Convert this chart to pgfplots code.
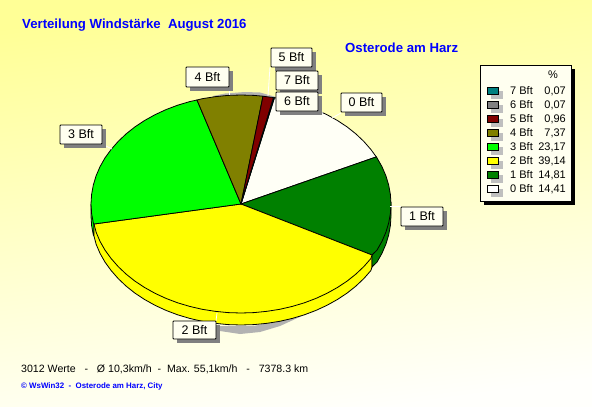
\documentclass[border=0pt]{standalone}
\usepackage{fontspec}
\setmainfont{Liberation Sans}
\usepackage{pgfplots}
\pgfplotsset{compat=1.18}

\definecolor{bft7}{HTML}{008080}
\definecolor{bft6}{HTML}{808080}
\definecolor{bft5}{HTML}{800000}
\definecolor{bft4}{HTML}{808000}
\definecolor{bft3}{HTML}{00FF00}
\definecolor{bft2}{HTML}{FFFF00}
\definecolor{bft1}{HTML}{008000}
\definecolor{bft0}{HTML}{FFFFF6}
\definecolor{paper}{HTML}{FFFFF0}
\definecolor{bgtop}{HTML}{FFFF96}
\definecolor{bgbot}{HTML}{FFFFFC}

% label box: x0, x1, y0, y1, text
\newcommand{\lbl}[5]{%
  \fill[bft6] (axis cs:#1+4,#3+4) rectangle (axis cs:#2+4,#4+4);
  \draw[black, line width=0.8pt, fill=paper, rounded corners=0.8pt] (axis cs:#1,#3) rectangle (axis cs:#2,#4);
  \node[font=\fontsize{12.5}{14}\selectfont, inner sep=0pt] at (axis cs:{(#1+#2)/2},{(#3+#4)/2}) {#5};
}
% legend row: y, colour, name, percent
\newcommand{\legrow}[4]{%
  \fill[black!25] (axis cs:491,#1-0.5) rectangle (axis cs:503,#1+7.5);
  \draw[black, line width=0.8pt, fill=#2] (axis cs:487,#1-3.5) rectangle (axis cs:498,#1+3.5);
  \node[font=\fontsize{11}{13}\selectfont, anchor=west, inner sep=0pt] at (axis cs:510,#1) {#3};
  \node[font=\fontsize{11}{13}\selectfont, anchor=east, inner sep=0pt] at (axis cs:566,#1) {#4};
}

\begin{document}
\begin{tikzpicture}
\begin{axis}[
    scale only axis,
    width=592pt, height=407pt,
    xmin=0, xmax=592,
    ymin=0, ymax=407,
    y dir=reverse,
    hide axis,
]
% background
\shade[top color=bgtop, bottom color=bgbot, shading angle=8]
  (axis cs:0,0) rectangle (axis cs:592,407);

% gray shadow, only the two crescents show
\addplot[fill=black!30, draw=none] coordinates {
  (213,96) (225,93.5) (245,92) (260,92.5) (276,97) (260,97) (213,97)
} --cycle;
\addplot[fill=black!30, draw=none] coordinates {
  (212,322) (220,331) (240,334) (260,332) (280,326) (304,315) (280,320) (254,326) (212,326)
} --cycle;

% side wall, top edge shifted 12 down
\addplot[fill=bft3, draw=black, line width=0.8pt] coordinates {
  (91,204) (91,216) (91.6,225.5) (93.3,234.9) (94,236) (94,224)
} --cycle;
\addplot[fill=bft2, draw=black, line width=0.8pt] coordinates {
  (94,224) (94,236) (96.1,244.2) (100,253.3) (105,262.1) (111.1,270.5) (118.1,278.5)
  (126.1,286.1) (134.9,293.1) (144.6,299.5) (155,305.3) (166,310.4) (177.6,314.8)
  (189.7,318.4) (202.2,321.3) (215,323.3) (227.9,324.6) (241,325) (254.1,324.6)
  (267,323.3) (279.8,321.3) (292.3,318.4) (304.4,314.8) (316,310.4) (327,305.3)
  (337.4,299.5) (347.1,293.1) (355.9,286.1) (363.9,278.5) (370.9,270.5) (372,267) (372,255)
} --cycle;
\addplot[fill=bft1, draw=black, line width=0.8pt] coordinates {
  (372,255) (372,267) (377,262.1) (382,253.3) (385.9,244.2) (388.7,234.9)
  (390.4,225.5) (391,216) (391,204)
} --cycle;

% slices: 0 Bft 14.41, 1 Bft 14.81, 2 Bft 39.14, 3 Bft 23.17, 4 Bft 7.37, 5 Bft 0.96, 6 and 7 Bft 0.07
\addplot[fill=bft0, draw=black, line width=0.8pt] coordinates {
  (241,204) (274.5,97.7) (279.8,98.7) (292.3,101.6) (304.4,105.2) (316,109.6) (327,114.7)
  (337.4,120.5) (347.1,126.9) (355.9,133.9) (363.9,141.5) (370.9,149.5) (376.3,156.9)
} --cycle;
\addplot[fill=bft1, draw=black, line width=0.8pt] coordinates {
  (241,204) (376.3,156.9) (377,157.9) (382,166.7) (385.9,175.8) (388.7,185.1) (390.4,194.5)
  (391,204) (390.4,213.5) (388.7,222.9) (385.9,232.2) (382,241.3) (377,250.1) (372,255)
} --cycle;
\addplot[fill=bft2, draw=black, line width=0.8pt] coordinates {
  (241,204) (372,255) (370.9,258.5) (363.9,266.5) (355.9,274.1) (347.1,281.1) (337.4,287.5)
  (327,293.3) (316,298.4) (304.4,302.8) (292.3,306.4) (279.8,309.3) (267,311.3) (254.1,312.6)
  (241,313) (227.9,312.6) (215,311.3) (202.2,309.3) (189.7,306.4) (177.6,302.8) (166,298.4)
  (155,293.3) (144.6,287.5) (134.9,281.1) (126.1,274.1) (118.1,266.5) (111.1,258.5)
  (105,250.1) (100,241.3) (96.1,232.2) (94,224)
} --cycle;
\addplot[fill=bft3, draw=black, line width=0.8pt] coordinates {
  (241,204) (94,224) (93.3,222.9) (91.6,213.5) (91,204) (91.6,194.5) (93.3,185.1) (96.1,175.8)
  (100,166.7) (105,157.9) (111.1,149.5) (118.1,141.5) (126.1,133.9) (134.9,126.9) (144.6,120.5)
  (155,114.7) (166,109.6) (177.6,105.2) (189.7,101.6) (197,100)
} --cycle;
\addplot[fill=bft4, draw=black, line width=0.8pt] coordinates {
  (241,204) (197,100) (202.2,98.7) (215,96.7) (227.9,95.4) (241,95) (254.1,95.4) (263,96.2)
} --cycle;
\addplot[fill=bft5, draw=black, line width=0.8pt] coordinates {
  (241,204) (263,96.2) (273.5,97.6)
} --cycle;
\addplot[fill=bft6, draw=black, line width=0.6pt] coordinates {(241,204) (273.5,97.6) (274,97.7)} --cycle;
\addplot[fill=bft7, draw=black, line width=0.6pt] coordinates {(241,204) (274,97.7) (274.5,97.7)} --cycle;

% leaders
\draw[white, line width=0.8pt] (axis cs:270,67) -- (axis cs:268,96);
\draw[white, line width=0.8pt] (axis cs:229,87) -- (axis cs:229,95);
\draw[white, line width=0.8pt] (axis cs:341,113) -- (axis cs:332,118);
\draw[white, line width=0.8pt] (axis cs:390,206) -- (axis cs:401,206);
\draw[white, line width=0.8pt] (axis cs:217,313) -- (axis cs:216,321);
\draw[white, line width=0.8pt] (axis cs:102,144) -- (axis cs:112,149);
\draw[white, line width=0.8pt] (axis cs:318,111) -- (axis cs:323,113);

% labels
\lbl{271}{312}{48}{67}{5 Bft}
\lbl{276}{318}{71}{90}{7 Bft}
\lbl{276}{318}{92}{111}{6 Bft}
\lbl{341}{382}{93}{112}{0 Bft}
\lbl{186}{229}{67}{87}{4 Bft}
\lbl{60}{102}{125}{144}{3 Bft}
\lbl{401}{443}{207}{226}{1 Bft}
\lbl{173}{216}{321}{339}{2 Bft}

% legend
\fill[black] (axis cs:484,69) rectangle (axis cs:575,205);
\draw[black, line width=0.8pt, fill=paper] (axis cs:480.5,65.5) rectangle (axis cs:571,201);
\node[font=\fontsize{11}{13}\selectfont, inner sep=0pt] at (axis cs:553,75) {\%};
\legrow{91}{bft7}{7 Bft}{0,07}
\legrow{105}{bft6}{6 Bft}{0,07}
\legrow{119}{bft5}{5 Bft}{0,96}
\legrow{133}{bft4}{4 Bft}{7,37}
\legrow{147}{bft3}{3 Bft}{23,17}
\legrow{161}{bft2}{2 Bft}{39,14}
\legrow{175}{bft1}{1 Bft}{14,81}
\legrow{189}{white}{0 Bft}{14,41}

% texts
\node[font=\fontsize{13.2}{15}\selectfont\bfseries, text=blue, anchor=west, inner sep=0pt] at (axis cs:22,25) {Verteilung Windstärke\ \ August 2016};
\node[font=\fontsize{13.2}{15}\selectfont\bfseries, text=blue, anchor=west, inner sep=0pt] at (axis cs:345,48) {Osterode am Harz};
\node[font=\fontsize{10.6}{14}\selectfont, anchor=west, inner sep=0pt] at (axis cs:21,369) {3012 Werte\ \ \ -\ \ \ Ø 10,3km/h\ \ -\ \ Max. 55,1km/h\ \ \ -\ \ \ 7378.3 km};
\node[font=\fontsize{7.9}{10}\selectfont\bfseries, text=blue, anchor=west, inner sep=0pt] at (axis cs:21,386) {© WsWin32\ \ -\ \ Osterode am Harz, City};
\end{axis}
\end{tikzpicture}
\end{document}
